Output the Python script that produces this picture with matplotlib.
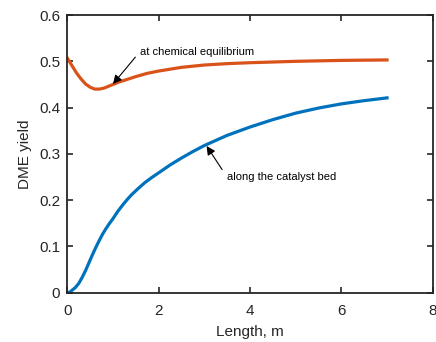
import matplotlib

matplotlib.use("Agg")
import matplotlib.pyplot as plt

# DME yield along the reactor
length_bed = [0.0, 0.05, 0.1, 0.175, 0.25, 0.325, 0.4, 0.475, 0.55, 0.625,
              0.7, 0.775, 0.85, 0.925, 1.0, 1.1, 1.2, 1.3, 1.4, 1.55, 1.7,
              1.85, 2.0, 2.25, 2.5, 2.75, 3.0, 3.5, 4.0, 4.5, 5.0, 5.5, 6.0,
              6.5, 7.0]
yield_bed = [0.0, 0.001, 0.005, 0.011, 0.020, 0.033, 0.048, 0.065, 0.082,
             0.098, 0.113, 0.127, 0.139, 0.150, 0.160, 0.175, 0.188, 0.200,
             0.211, 0.225, 0.238, 0.249, 0.259, 0.276, 0.291, 0.305, 0.318,
             0.340, 0.358, 0.374, 0.388, 0.399, 0.408, 0.415, 0.421]

length_eq = [0.0, 0.1, 0.2, 0.3, 0.4, 0.5, 0.6, 0.7, 0.8, 0.9, 1.0, 1.125,
             1.25, 1.375, 1.5, 1.75, 2.0, 2.5, 3.0, 3.5, 4.0, 5.0, 6.0, 7.0]
yield_eq = [0.507, 0.491, 0.475, 0.462, 0.451, 0.444, 0.440, 0.440, 0.442,
            0.446, 0.450, 0.455, 0.459, 0.463, 0.467, 0.474, 0.479, 0.487,
            0.492, 0.495, 0.497, 0.500, 0.502, 0.503]

x_ticks = [0, 2, 4, 6, 8]
y_ticks = [0, 0.1, 0.2, 0.3, 0.4, 0.5, 0.6]

plt.rcParams["font.family"] = ["Liberation Sans", "DejaVu Sans"]

fig = plt.figure(figsize=(4.36, 3.42), dpi=100)
ax = fig.add_axes([0.1544, 0.1442, 0.838, 0.8118])

ax.plot(length_eq, yield_eq, color="#D95319", lw=2.3,
        solid_joinstyle="round")
ax.plot(length_bed, yield_bed, color="#0072BD", lw=2.3,
        solid_joinstyle="round")

ax.set_xlim(0, 8)
ax.set_ylim(0, 0.6)
ax.set_xticks(x_ticks)
ax.set_yticks(y_ticks)
ax.set_xticklabels([f"{v:g}" for v in x_ticks])
ax.set_yticklabels([f"{v:g}" for v in y_ticks])
ax.tick_params(direction="in", top=True, right=True, length=4, width=1.2,
               colors="#262626", labelsize=11)
ax.tick_params(axis="x", pad=8)
ax.tick_params(axis="y", pad=5)
for sp in ax.spines.values():
    sp.set_linewidth(1.3)
    sp.set_color("#262626")

ax.set_xlabel("Length, m", fontsize=11, color="#262626", labelpad=5)
ax.set_ylabel("DME yield", fontsize=11, color="#262626", labelpad=5)

# arrows drawn separately from the labels, as in the original
arrow = dict(arrowstyle="-|>", color="black", lw=0.8,
             mutation_scale=13, shrinkA=0, shrinkB=0)
ax.annotate("", xy=(1.0, 0.451), xytext=(1.49, 0.509), arrowprops=arrow)
ax.text(1.6, 0.521, "at chemical equilibrium", fontsize=8,
        ha="left", va="center")
ax.annotate("", xy=(3.05, 0.317), xytext=(3.39, 0.266), arrowprops=arrow)
ax.text(3.49, 0.25, "along the catalyst bed", fontsize=8,
        ha="left", va="center")

fig.savefig("out.png", dpi=100)
